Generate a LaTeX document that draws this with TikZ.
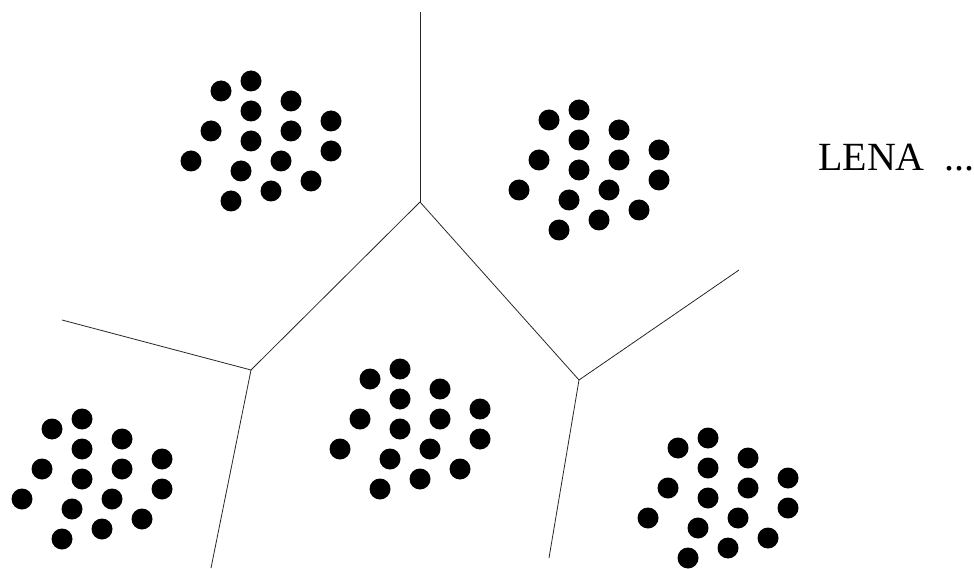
\documentclass[tikz,border=0pt]{standalone}
\usepackage{fontspec}
\setmainfont{Liberation Serif}
\usepackage{tikz}
\usetikzlibrary{positioning}

\tikzset{
  blob/.style={circle, fill=black, inner sep=0pt, minimum size=21pt},
  cell/.style={line width=0.8pt, black!85},
}

\begin{document}
\begin{tikzpicture}[x=1pt, y=-1pt]
  \useasboundingbox (0,0) rectangle (974,569);

  % Cell vertices and free ends
  \coordinate (top)   at (420,202);
  \coordinate (left)  at (251,370);
  \coordinate (right) at (579,380);
  \coordinate (topend)   at (420,12);
  \coordinate (leftend)  at (62,320);
  \coordinate (lowleft)  at (211,568);
  \coordinate (rightend) at (739,270);
  \coordinate (lowright) at (549,558);

  % Borders between cells
  \draw[cell] (topend) -- (top);
  \draw[cell] (top) -- (left);
  \draw[cell] (top) -- (right);
  \draw[cell] (leftend) -- (left) -- (lowleft);
  \draw[cell] (rightend) -- (right) -- (lowright);

  % Clusters of points
  \foreach \c/\cx/\cy in {a/251/141, b/579/170, c/400/429, d/82/479, e/708/498} {
    \foreach \dx/\dy [count=\i] in {-30/-50, 0/-60, 0/-30, 40/-40, 80/-20,
                                    -40/-10, 0/0, 40/-10, 80/10, -60/20,
                                    -10/30, 30/20, 60/40, -20/60, 20/50}
      \node[blob] (\c\i) at (\cx+\dx,\cy+\dy) {};
  }

  % Label
  \node (lena) [anchor=base west, inner sep=0pt] at (818,171)
    {\fontsize{40}{48}\selectfont LENA ~...};
\end{tikzpicture}
\end{document}
